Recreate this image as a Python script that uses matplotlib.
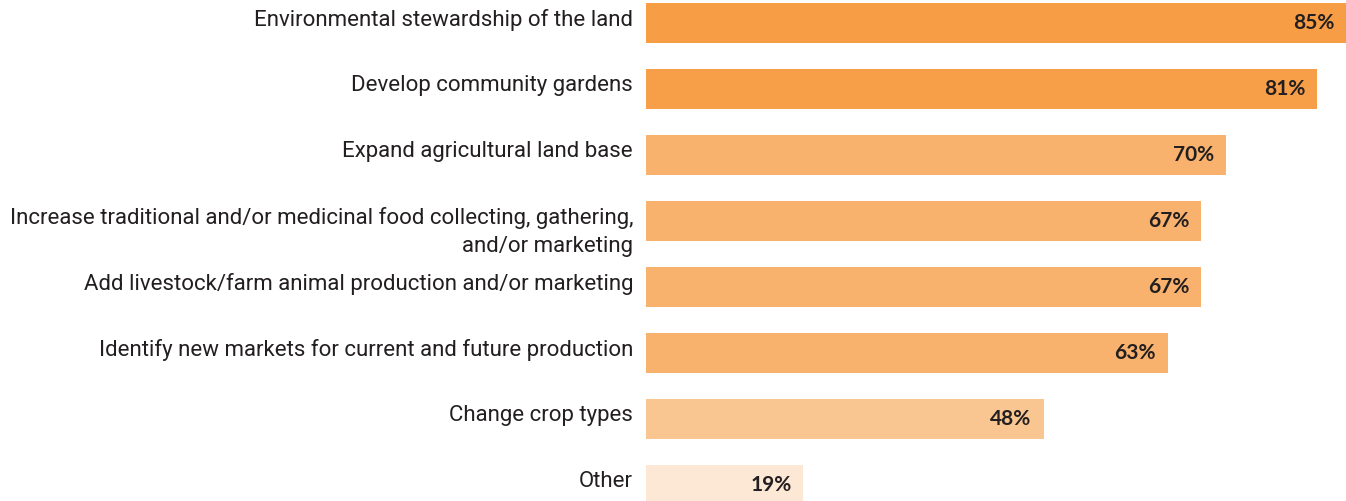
import matplotlib.pyplot as plt
import matplotlib.transforms as mtransforms

# survey responses, top to bottom
categories = [
    "Environmental stewardship of the land",
    "Develop community gardens",
    "Expand agricultural land base",
    "Increase traditional and/or medicinal food collecting, gathering,\nand/or marketing",
    "Add livestock/farm animal production and/or marketing",
    "Identify new markets for current and future production",
    "Change crop types",
    "Other",
]
values = [85, 81, 70, 67, 67, 63, 48, 19]
colors = ["#F69D45", "#F69F48", "#F8B26D", "#F8B26D", "#F8B26D", "#F8B26D",
          "#F9C591", "#FDE7D5"]

fig = plt.figure(figsize=(13.46, 5.01), dpi=100)
ax = fig.add_axes([646 / 1346, 0, 700 / 1346, 1])

pos = list(range(len(values)))
bar_h = 0.6
ax.barh(pos, values, height=bar_h, color=colors)
ax.set_xlim(0, 84.5)
ax.set_ylim(7.24, -0.35)
ax.axis("off")

# category labels to the left of the bars, hung from the bar top
shift = mtransforms.ScaledTranslation(-13 / 100, -5.5 / 100, fig.dpi_scale_trans)
for y, name in zip(pos, categories):
    ax.text(0, y - bar_h / 2, name, ha="right", va="top", fontsize=16,
            family="Roboto", color="#231F20", linespacing=1.45,
            transform=ax.transData + shift, clip_on=False)

# value labels inside the bar ends
inset = mtransforms.ScaledTranslation(-12 / 100, 0, fig.dpi_scale_trans)
for y, v in zip(pos, values):
    ax.text(min(v, 84.5), y, f"{v}%", ha="right", va="center", fontsize=15,
            family="Lato", fontweight="bold", color="#231F20",
            transform=ax.transData + inset)

fig.savefig("out.png", dpi=100)
